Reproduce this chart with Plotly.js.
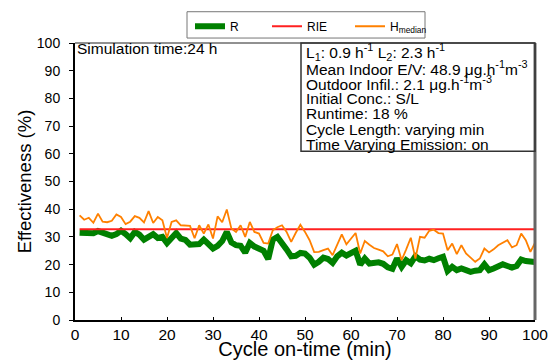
<!DOCTYPE html>
<html><head><meta charset="utf-8">
<script src="https://cdn.plot.ly/plotly-3.0.1.min.js"></script>
<style>html,body{margin:0;padding:0;background:#fff}#c{width:555px;height:360px}</style>
</head><body><div id="c"></div>
<script>
const cycleOnTime = [1,2,3,4,5,6,7,8,9,10,11,12,13,14,15,16,17,18,19,20,
  21,22,23,24,25,26,27,28,29,30,31,32,33,34,35,36,37,38,39,40,
  41,42,43,44,45,46,47,48,49,50,51,52,53,54,55,56,57,58,59,60,
  61,62,63,64,65,66,67,68,69,70,71,72,73,74,75,76,77,78,79,80,
  81,82,83,84,85,86,87,88,89,90,91,92,93,94,95,96,97,98,99,100];

const R = [31.5,31.5,31.4,31.3,32.1,31.5,30.6,30.4,31.0,32.2,
  31.0,29.5,31.8,30.8,29.0,30.0,31.0,29.6,30.0,27.8,
  29.5,31.4,29.4,28.9,27.2,27.3,27.4,29.0,27.5,25.8,
  26.8,28.5,31.8,28.0,27.0,26.8,24.3,27.8,26.5,26.0,
  25.0,22.0,29.0,30.0,28.0,25.5,23.0,23.2,24.2,24.0,
  22.5,20.0,21.0,22.5,22.0,20.6,23.0,24.3,23.3,24.0,
  25.0,20.0,22.2,20.4,20.8,20.8,20.3,19.0,18.5,22.2,
  19.2,21.6,20.5,23.0,21.8,21.5,22.1,21.6,22.3,22.8,
  17.7,19.2,18.0,18.6,18.0,17.4,17.8,18.0,20.1,18.0,
  18.6,19.2,20.1,19.5,18.9,19.5,21.8,21.3,21.0,20.9];

const Hmedian = [37.8,36.2,36.9,35.1,38.4,35.5,35.3,35.8,38.1,37.2,
  34.6,35.5,37.5,36.9,35.2,39.3,35.0,37.2,36.0,29.6,
  35.4,36.0,34.2,34.2,34.0,29.5,34.2,31.2,34.5,29.4,
  37.4,35.3,39.9,33.0,31.8,34.2,30.0,35.4,31.8,31.2,
  27.8,27.6,32.4,33.5,34.2,31.8,28.2,31.5,34.4,31.8,
  28.8,24.5,24.6,25.2,25.8,23.4,27.0,30.9,27.3,29.5,
  31.4,24.0,28.5,27.2,26.0,25.4,24.8,23.0,23.6,27.4,
  21.6,25.5,29.7,22.2,30.0,29.7,32.2,32.6,31.4,31.2,
  25.2,27.6,23.8,27.0,24.0,22.5,21.0,22.2,25.8,24.4,
  25.5,27.0,27.8,28.8,26.2,27.0,31.2,28.8,24.6,27.8];

const rieX = [1, 100];
const rieY = [32.8, 32.8];

const xTicks = [0,10,20,30,40,50,60,70,80,90,100];
const yTicks = [0,10,20,30,40,50,60,70,80,90,100];

const infoLines = [
  'L<sub>1</sub>: 0.9 h<sup>-1</sup> L<sub>2</sub>: 2.3 h<sup>-1</sup>',
  'Mean Indoor E/V: 48.9 μg.h<sup>-1</sup>m<sup>-3</sup>',
  'Outdoor Infil.: 2.1 μg.h<sup>-1</sup>m<sup>-3</sup>',
  'Initial Conc.: S/L',
  'Runtime: 18 %',
  'Cycle Length: varying min',
  'Time Varying Emission: on'
];
const simText = 'Simulation time:24 h';

// pixel helpers for layout placement (plot area 75..535 x, 41..320 y)
const PL = 75, PR = 535, PT = 41, PB = 320;
const px = v => (v - PL) / (PR - PL);
const py = v => (PB - v) / (PB - PT);

const FONT = 'Liberation Sans, Arial, sans-serif';

const traces = [
  {x: cycleOnTime, y: R, name: 'R', mode: 'lines', line: {color: '#008000', width: 6}, legend: 'legend'},
  {x: rieX, y: rieY, name: 'RIE', mode: 'lines', line: {color: '#ff2020', width: 2}, legend: 'legend2'},
  {x: cycleOnTime, y: Hmedian, name: 'H<sub>median</sub>', mode: 'lines', line: {color: '#ff8000', width: 1.8}, legend: 'legend3'}
];

const annotations = [
  {xref: 'paper', yref: 'paper', x: px(75), y: py(47), xanchor: 'left', yanchor: 'middle',
   text: simText, showarrow: false, font: {family: FONT, size: 15.5, color: '#000'}}
];
const lineY = [50.5, 66, 81.5, 97, 112.5, 128, 143.5];
infoLines.forEach((t, i) => {
  annotations.push({xref: 'paper', yref: 'paper', x: px(304), y: py(lineY[i]), xanchor: 'left', yanchor: 'middle',
    text: t, showarrow: false, font: {family: FONT, size: 15.5, color: '#000'}});
});

const legStyle = x => ({orientation: 'h', x: px(x), y: py(9.5), xanchor: 'left', yanchor: 'top',
  bgcolor: 'rgba(0,0,0,0)', borderwidth: 0, font: {family: FONT, size: 12, color: '#000'}});

const layout = {
  width: 555, height: 360,
  margin: {l: PL, r: 555 - PR, t: PT, b: 360 - PB},
  paper_bgcolor: '#fff', plot_bgcolor: '#fff',
  font: {family: FONT, color: '#000'},
  showlegend: true,
  legend: legStyle(190),
  legend2: legStyle(267),
  legend3: legStyle(350),
  xaxis: {range: [0, 100], tickvals: xTicks, ticktext: xTicks.map(String), showgrid: false, zeroline: false,
    showline: true, linecolor: '#000', linewidth: 1.5, ticks: 'inside', ticklen: 3, tickcolor: '#000',
    tickfont: {family: FONT, size: 15.5, color: '#000'},
    title: {text: 'Cycle on-time (min)', font: {family: FONT, size: 20, color: '#000'}, standoff: 0}},
  yaxis: {range: [0, 100], tickvals: yTicks, ticktext: yTicks.map(String), showgrid: false, zeroline: false,
    showline: true, linecolor: '#000', linewidth: 2, ticks: 'outside', ticklen: 4, tickcolor: '#000',
    ticklabelstandoff: 6,
    tickfont: {family: FONT, size: 14, color: '#000'},
    title: {text: 'Effectiveness (%)', font: {family: FONT, size: 18.5, color: '#000'}, standoff: 0}},
  xaxis2: {overlaying: 'x', anchor: 'y', side: 'bottom', range: [0, 100], tickvals: xTicks, showticklabels: false,
    showgrid: false, zeroline: false, showline: false, ticks: 'outside', ticklen: 3, tickcolor: '#000'},
  yaxis2: {overlaying: 'y', anchor: 'x', side: 'left', range: [0, 100], tickvals: yTicks, showticklabels: false,
    showgrid: false, zeroline: false, showline: false, ticks: 'inside', ticklen: 3, tickcolor: '#000'},
  shapes: [
    {type: 'line', xref: 'paper', yref: 'paper', x0: 0, x1: 1, y0: 1, y1: 1, line: {color: '#222', width: 1}},
    {type: 'line', xref: 'paper', yref: 'paper', x0: 1, x1: 1, y0: 0, y1: 1, line: {color: '#666', width: 3}},
    {type: 'rect', xref: 'paper', yref: 'paper', x0: px(301), x1: 1, y0: py(150), y1: 1,
     line: {color: '#333', width: 1.5}, fillcolor: 'rgba(0,0,0,0)'},
    {type: 'rect', xref: 'paper', yref: 'paper', x0: px(187), x1: px(425), y0: py(36), y1: py(9.5),
     line: {color: '#777', width: 1}, fillcolor: 'rgba(0,0,0,0)'}
  ],
  annotations: annotations
};

Plotly.newPlot('c', traces, layout, {displayModeBar: false, staticPlot: true});
</script>
</body></html>
